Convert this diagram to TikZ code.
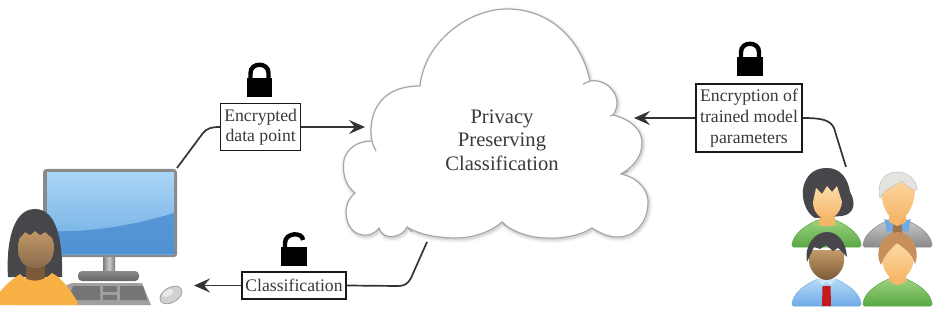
\documentclass[tikz,border=0pt]{standalone}
\usepackage{fontspec}
\setmainfont{Liberation Serif}
\usetikzlibrary{arrows.meta,calc}

\definecolor{ink}{HTML}{3A3A3A}
\definecolor{skinA}{HTML}{FDDCA8}
\definecolor{skinB}{HTML}{F6B66A}
\definecolor{brownA}{HTML}{C49A68}
\definecolor{brownB}{HTML}{7C5A38}
\definecolor{hairDark}{HTML}{47474B}
\definecolor{hairGrey}{HTML}{E3E3E0}
\definecolor{hairTan}{HTML}{C68F5C}
\definecolor{greenA}{HTML}{9BD27E}
\definecolor{greenB}{HTML}{5AA845}
\definecolor{blueA}{HTML}{B5DBF8}
\definecolor{blueB}{HTML}{6FAAE6}
\definecolor{greyA}{HTML}{C8C8C8}
\definecolor{greyB}{HTML}{8A8A8A}
\definecolor{screenA}{HTML}{A9D5F5}
\definecolor{screenB}{HTML}{6CABE3}
\definecolor{screenC}{HTML}{4A8CD0}
\definecolor{shirt}{HTML}{F9B044}

\tikzset{
  labelbox/.style={draw=black!90,line width=1.3pt,fill=white,inner sep=0pt,align=center,
    text=ink,font=\fontsize{17.7}{22}\selectfont},
  link/.style={draw=black!80,line width=1.7pt},
  arrowlink/.style={link,-{Stealth[length=16pt,width=14pt,inset=6pt]}},
  cloudline/.style={draw=black!35,line width=1.2pt},
  lockbody/.style={fill=black},
  shackle/.style={draw=black,line width=4.4pt}
}

% shoulders of a figure, with its origin at the middle of the bottom edge
\newcommand{\busttorso}{(-33,0) .. controls (-35,0) and (-35,-3) .. (-34,-5)
  .. controls (-31,-15) and (-20,-22) .. (-9,-27) -- (9,-27)
  .. controls (20,-22) and (31,-15) .. (34,-5)
  .. controls (35,-3) and (35,0) .. (33,0) -- cycle}

% outline of the cloud
\newcommand{\cloudoutline}{(420,86)
  .. controls (425,40) and (470,9) .. (507,9)
  .. controls (552,9) and (582,42) .. (590,81)
  .. controls (608,78) and (625,98) .. (613,115)
  .. controls (632,120) and (642,130) .. (642,143)
  .. controls (642,157) and (633,167) .. (621,174)
  .. controls (640,178) and (649,192) .. (648,204)
  .. controls (647,225) and (632,238) .. (617,237)
  .. controls (608,237) and (600,233) .. (592,228)
  .. controls (580,236) and (560,239) .. (547,238)
  .. controls (530,238) and (512,232) .. (502,222)
  .. controls (490,233) and (470,238) .. (457,238)
  .. controls (438,238) and (420,235) .. (407,227)
  .. controls (404,236) and (384,243) .. (379,228)
  .. controls (370,241) and (347,237) .. (346,213)
  .. controls (346,203) and (350,197) .. (355,193)
  .. controls (345,185) and (342,172) .. (344,160)
  .. controls (347,148) and (358,141) .. (372,141)
  .. controls (368,120) and (375,86) .. (420,86) -- cycle}

\begin{document}
\begin{tikzpicture}[x=1pt,y=-1pt]
\useasboundingbox (0,0) rectangle (937,323);
\fill[white] (0,0) rectangle (937,323);

% cloud with a soft shadow
\begin{scope}[shift={(1,1.5)}]
  \draw[black,opacity=.03,line width=7pt,line join=round] \cloudoutline;
  \draw[black,opacity=.05,line width=4pt,line join=round] \cloudoutline;
  \draw[black,opacity=.07,line width=2pt,line join=round] \cloudoutline;
\end{scope}
\path[fill=white,cloudline] \cloudoutline;
\draw[cloudline] (590,81) -- (583,84);
\draw[cloudline] (613,115) -- (610,116);
\draw[cloudline] (621,174) -- (628,171);
\draw[cloudline] (502,222) -- (506,226);
\draw[cloudline] (407,227) -- (412,232);
\draw[cloudline] (372,141) .. controls (373,145) and (374,148) .. (376,151);
\node[text=ink,align=center,font=\fontsize{20.6}{23.3}\selectfont] (cloudtext) at (502,140)
  {Privacy\\Preserving\\Classification};

% monitor
\fill[greyB] (43,173) .. controls (43,170) and (44,169) .. (47,169) -- (173,169)
  .. controls (176,169) and (177,170) .. (177,173) -- (177,254)
  .. controls (177,256) and (176,257) .. (174,257) -- (46,257)
  .. controls (44,257) and (43,256) .. (43,254) -- cycle;
\shade[top color=screenA,bottom color=screenB] (47,173) rectangle (174,254);
\fill[screenC,opacity=.8] (47,231) .. controls (90,233) and (135,225) .. (174,213)
  -- (174,254) -- (47,254) -- cycle;
\shade[left color=greyB!90!black,right color=greyB!90!black,middle color=greyA] (103,257) rectangle (115,273);
\shade[top color=greyB,bottom color=greyB!75!black,rounded corners=4pt] (78,271) rectangle (139,281);

% keyboard and mouse
\fill[greyA!80!black] (72,283) -- (142,283) -- (151,305) -- (18,305) -- cycle;
\fill[greyB!85!black] (73,286) -- (100,286) -- (100,300) -- (68,300) -- cycle;
\fill[greyB!85!black] (120,286) -- (143,286) -- (147,300) -- (120,300) -- cycle;
\fill[greyB!85!black] (103,286) rectangle (117,292);
\fill[greyB!85!black] (103,295) rectangle (117,300);
\draw[greyB!80,line width=.8pt,fill=black!18,rotate around={30:(171,295)}] (171,295) ellipse (12 and 7.5);
\fill[white,opacity=.5,rotate around={30:(168,293)}] (168,293) ellipse (6 and 3);

% figure at the computer
\fill[hairDark] (8,277) .. controls (6,245) and (12,209) .. (35,209)
  .. controls (58,209) and (63,245) .. (62,277) -- cycle;
\fill[brownB] (26,260) rectangle (45,282);
\shade[top color=brownA,bottom color=brownB!90] (18,248)
  .. controls (18,233) and (26,229) .. (35,229) .. controls (45,229) and (54,233) .. (54,248)
  .. controls (54,262) and (45,268) .. (35,268) .. controls (25,268) and (18,262) .. (18,248) -- cycle;
\fill[hairDark] (20,238) -- (24,228) -- (48,228) -- (52,238) -- (45,232) -- (40,235) -- (35,231) -- (30,235) -- (25,232) -- cycle;
\fill[shirt] (0,292) .. controls (6,284) and (14,278) .. (20,274)
  .. controls (28,283) and (42,283) .. (52,273) .. controls (62,278) and (72,292) .. (78,303) -- (78,305) -- (0,305) -- cycle;

% group, dark-haired woman
\begin{scope}[shift={(826.5,247)}]
  \shade[top color=greenA,bottom color=greenB,draw=greenB,line width=.5pt] \busttorso;
\end{scope}
\fill[skinB] (819,215) rectangle (835,226);
\fill[hairDark] (812,216) .. controls (802,207) and (801,190) .. (805,182)
  .. controls (810,170) and (820,168) .. (827,168) .. controls (840,168) and (848,178) .. (850,192)
  .. controls (856,202) and (855,214) .. (842,216) -- (815,218) -- cycle;
\shade[top color=skinA,bottom color=skinB] (813,202) -- (816,188) -- (822,194) -- (827,186) -- (832,192) -- (837,186) -- (842,202)
  .. controls (841,212) and (834,219) .. (827,219) .. controls (820,219) and (813,212) .. (813,202) -- cycle;

% group, grey-haired man
\begin{scope}[shift={(897.5,247)}]
  \shade[top color=greyA,bottom color=greyB,draw=greyB,line width=.5pt] \busttorso;
  \fill[blueB] (-13,-28) -- (0,-24) -- (13,-28) -- (11,-15) -- (0,-17) -- (-11,-15) -- cycle;
  \fill[hairTan!80!black] (-4,-23) -- (4,-23) -- (5,-14) -- (-5,-14) -- cycle;
\end{scope}
\fill[skinB] (889,212) -- (906,212) -- (906,222) -- (897.5,226) -- (889,222) -- cycle;
\shade[top color=skinA,bottom color=skinB] (881,188) .. controls (881,175) and (890,172) .. (897,172)
  .. controls (906,172) and (915,178) .. (915,188) .. controls (915,205) and (907,220) .. (897,220)
  .. controls (888,220) and (881,205) .. (881,188) -- cycle;
\fill[hairGrey,draw=greyA,line width=.6pt] (880,198) .. controls (876,182) and (885,172) .. (897,172)
  .. controls (908,172) and (917,180) .. (917,190) .. controls (910,190) and (905,184) .. (902,181)
  .. controls (895,186) and (885,188) .. (880,198) -- cycle;

% group, dark-haired man
\begin{scope}[shift={(826.5,306)}]
  \shade[top color=blueA,bottom color=blueB,draw=blueB,line width=.5pt] \busttorso;
  \fill[red!75!black!90!white] (-4,-20) -- (4,-20) -- (4.5,0) -- (-4.5,0) -- cycle;
  \fill[blueA!70!white] (-10,-27) -- (-4,-21) -- (0,-24) -- (4,-21) -- (10,-27) -- cycle;
\end{scope}
\shade[top color=brownA,bottom color=brownB] (809,250) -- (844,250) -- (844,262)
  .. controls (843,272) and (834,280) .. (826.5,280) .. controls (819,280) and (810,272) .. (809,262) -- cycle;
\fill[hairDark] (807,262) .. controls (804,245) and (815,232) .. (827,232)
  .. controls (838,232) and (846,242) .. (847,257) -- (838,248) -- (833,251) -- (826,245) -- (820,249) -- (814,247) -- cycle;

% group, woman with tan hair
\begin{scope}[shift={(897.5,306)}]
  \shade[top color=greenA,bottom color=greenB,draw=greenB,line width=.5pt] \busttorso;
\end{scope}
\fill[skinB] (889,272) -- (906,272) -- (906,281) .. controls (902,286) and (893,286) .. (889,281) -- cycle;
\shade[top color=skinA,bottom color=skinB] (882,255) .. controls (882,243) and (890,240) .. (897,240)
  .. controls (906,240) and (914,244) .. (914,255) .. controls (914,270) and (907,279) .. (897,279)
  .. controls (888,279) and (882,270) .. (882,255) -- cycle;
\fill[hairTan] (881,265) .. controls (873,250) and (884,232) .. (898,232)
  .. controls (910,232) and (921,248) .. (915,264) .. controls (912,253) and (905,249) .. (897,243)
  .. controls (890,250) and (884,255) .. (881,265) -- cycle;

% labelled boxes
\node[labelbox,minimum width=80pt,minimum height=47.5pt] (encpoint) at (260.7,127) {Encrypted\\[-2pt]data point};
\node[labelbox,minimum width=106pt,minimum height=68pt] (encparams) at (749,118) {Encryption of\\[-1pt]trained model\\[-1pt]parameters};
\node[labelbox,minimum width=104pt,minimum height=27pt] (result) at (294,285.5) {Classification};

% locks
\fill[lockbody] (247,78) rectangle (272,97);
\draw[shackle] (250.5,78) -- (250.5,73) .. controls (250.5,62) and (268.5,62) .. (268.5,73) -- (268.5,78);
\fill[lockbody] (737,57) rectangle (763,76);
\draw[shackle] (741,57) -- (741,52) .. controls (741,41) and (759,41) .. (759,52) -- (759,57);
\fill[lockbody] (281,247) rectangle (307,266);
\draw[shackle] (285,247) -- (285,243) .. controls (285,232) and (303,232) .. (303,240);

% end points on the computer, the group and the cloud
\coordinate (monitorcorner) at (177,168);
\coordinate (groupedge) at (846,167);
\coordinate (cloudwest) at (365,127);
\coordinate (cloudeast) at (634,118);
\coordinate (cloudsouth) at (427,242);
\coordinate (mousetip) at (194,285.5);

% connectors
\draw[link] (monitorcorner) -- (203,133) .. controls (207,128) and (212,127) .. (encpoint.west |- 220,127);
\draw[arrowlink] (encpoint.east) -- (cloudwest);
\draw[arrowlink] (encparams.west) -- (cloudeast);
\draw[link] (groupedge) -- (834,128) .. controls (830,120) and (822,118) .. (encparams.east);
\draw[link] (cloudsouth) -- (411,278) .. controls (408,284) and (404,286) .. (398,286) -- (result.east);
\draw[arrowlink] (result.west) -- (mousetip);
\end{tikzpicture}
\end{document}
